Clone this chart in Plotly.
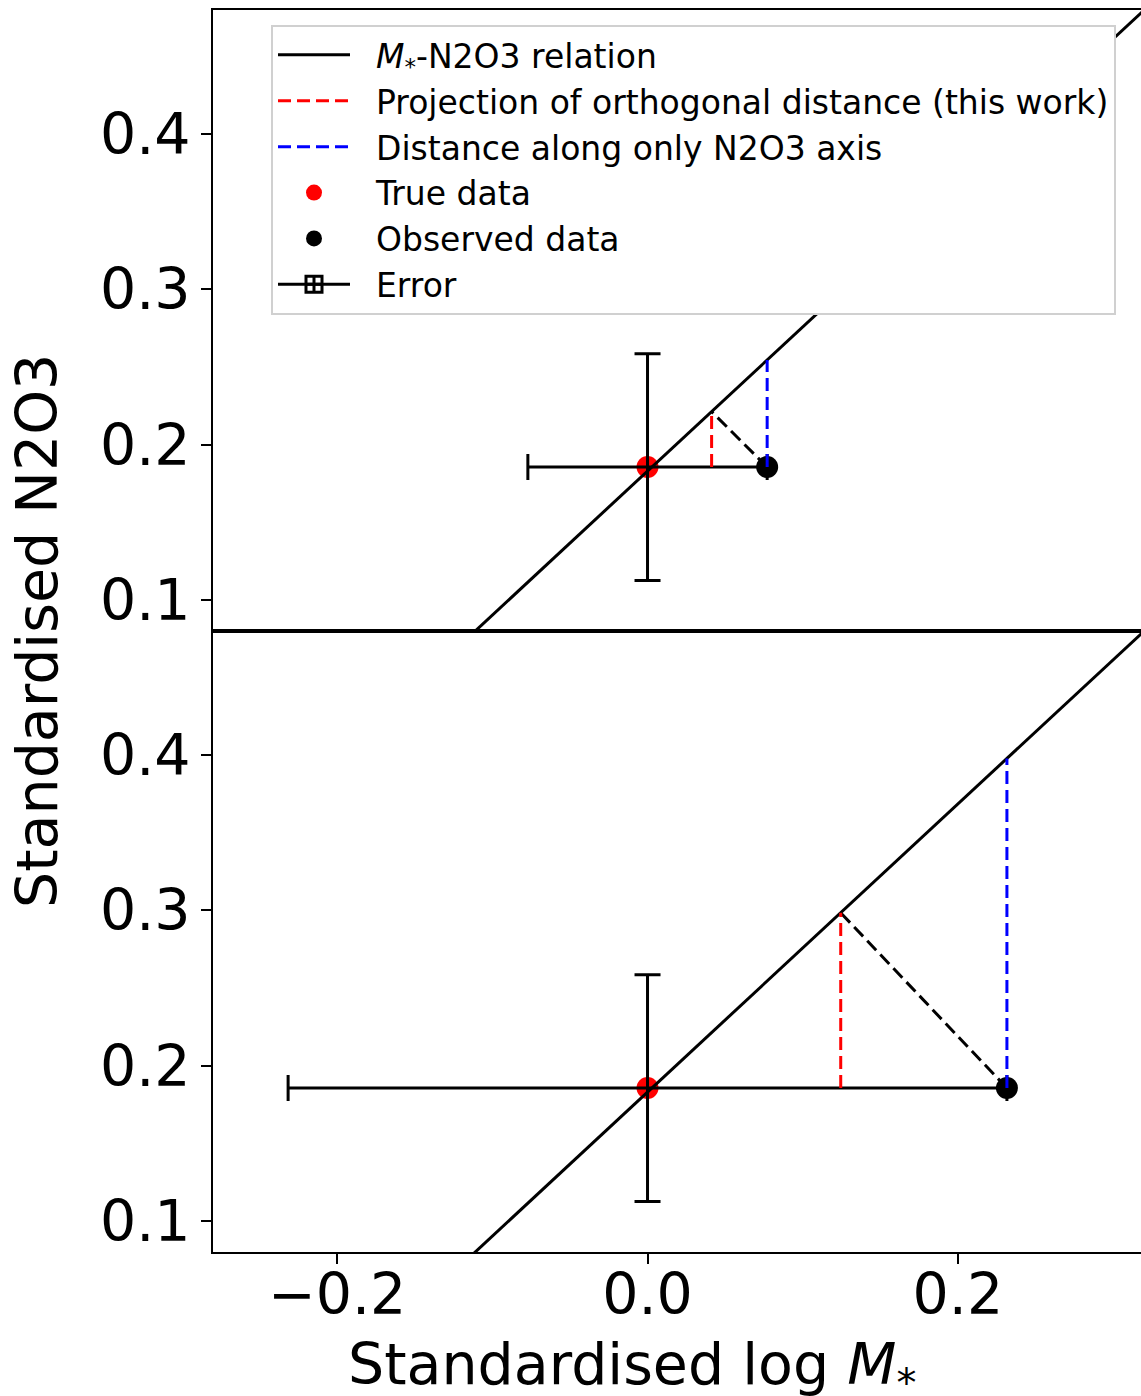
import plotly.graph_objects as go
from plotly.subplots import make_subplots

# ---------------- data ----------------
x_range = [-0.28, 0.318]
y_range = [0.08, 0.48]
x_ticks = [-0.2, 0.0, 0.2]
y_ticks = [0.1, 0.2, 0.3, 0.4]

# M*-N2O3 relation (straight line, end points)
relation_x = [-0.30, 0.35]
relation_y = [-0.0954, 0.5078]

# true data point (same in both panels)
true_x = [0.0]
true_y = [0.1856]

# observed data point per panel (top, bottom)
obs_x = [0.0771, 0.2316]
obs_y = [0.1856, 0.1856]

# foot of the orthogonal projection on the relation, per panel
foot_x = [0.0413, 0.1245]
foot_y = [0.2213, 0.2985]

# point on the relation straight above the observed point, per panel
vert_top_y = [0.2546, 0.3979]

# errors per panel
err_x = [0.0771, 0.2316]
err_y = [0.073, 0.073]

legend_names = [
    "<i>M</i><sub>*</sub>-N2O3 relation",
    "Projection of orthogonal distance (this work)",
    "Distance along only N2O3 axis",
    "True data",
    "Observed data",
    "Error",
]

FONT = "DejaVu Sans"
DASH = "13px,6px"
LW = 3
PAD = "\u00a0\u00a0"

fig = make_subplots(rows=2, cols=1, shared_xaxes=True, vertical_spacing=0)

for i, row in enumerate([1, 2]):
    first = (i == 0)
    # true data (drawn first, below the lines)
    fig.add_trace(go.Scatter(
        x=true_x, y=true_y, mode="markers",
        marker=dict(color="#ff0000", size=22),
        name=PAD + legend_names[3], showlegend=first, legendrank=4,
        cliponaxis=False), row=row, col=1)
    # relation line
    fig.add_trace(go.Scatter(
        x=relation_x, y=relation_y, mode="lines",
        line=dict(color="black", width=LW),
        name=PAD + legend_names[0], showlegend=first, legendrank=1), row=row, col=1)
    # error bars around the true data
    fig.add_trace(go.Scatter(
        x=true_x, y=true_y, mode="markers",
        marker=dict(color="rgba(0,0,0,0)", size=1),
        error_x=dict(type="data", array=[err_x[i]], color="black",
                     thickness=LW, width=13),
        error_y=dict(type="data", array=[err_y[i]], color="black",
                     thickness=LW, width=13),
        showlegend=False, hoverinfo="skip"), row=row, col=1)
    # observed data
    fig.add_trace(go.Scatter(
        x=[obs_x[i]], y=[obs_y[i]], mode="markers",
        marker=dict(color="black", size=22),
        name=PAD + legend_names[4], showlegend=first, legendrank=5,
        cliponaxis=False), row=row, col=1)
    # black dashed: observed -> foot of projection
    fig.add_trace(go.Scatter(
        x=[obs_x[i], foot_x[i]], y=[obs_y[i], foot_y[i]], mode="lines",
        line=dict(color="black", width=LW, dash=DASH),
        showlegend=False, hoverinfo="skip"), row=row, col=1)
    # red dashed: vertical projection of the orthogonal distance
    fig.add_trace(go.Scatter(
        x=[foot_x[i], foot_x[i]], y=[obs_y[i], foot_y[i]], mode="lines",
        line=dict(color="#ff0000", width=LW, dash=DASH),
        name=PAD + legend_names[1], showlegend=first, legendrank=2), row=row, col=1)
    # blue dashed: distance along N2O3 axis only
    fig.add_trace(go.Scatter(
        x=[obs_x[i], obs_x[i]], y=[obs_y[i], vert_top_y[i]], mode="lines",
        line=dict(color="#0000ff", width=LW, dash=DASH),
        name=PAD + legend_names[2], showlegend=first, legendrank=3), row=row, col=1)

# legend-only entry for the error glyph
fig.add_trace(go.Scatter(
    x=[None], y=[None], mode="lines+markers",
    line=dict(color="black", width=LW),
    marker=dict(symbol="square-cross-open", size=16, color="black",
                line=dict(width=LW, color="black")),
    name=PAD + legend_names[5], showlegend=True, legendrank=6), row=1, col=1)

axis_common = dict(
    showgrid=False, zeroline=False, showline=True, linecolor="black",
    linewidth=2, tickcolor="black", tickwidth=2, ticklen=10,
    tickfont=dict(family=FONT, size=57, color="black"),
)

fig.update_xaxes(range=x_range, tickvals=x_ticks, tickformat=".1f",
                 mirror=True, **axis_common)
fig.update_xaxes(ticks="", showticklabels=False, row=1, col=1)
fig.update_xaxes(ticks="outside", showticklabels=True, ticklabelstandoff=-18,
                 row=2, col=1)
fig.update_yaxes(range=y_range, tickvals=y_ticks, tickformat=".1f",
                 ticks="outside", mirror=False, ticklabelstandoff=-1,
                 **axis_common)

fig.add_annotation(
    text="Standardised N2O3", textangle=-90, xref="paper", yref="paper",
    x=-0.1897, y=0.5, xanchor="center", yanchor="middle", showarrow=False,
    font=dict(family=FONT, size=57, color="black"))
fig.add_annotation(
    text="Standardised log <i>M</i><sub>*</sub>", xref="paper", yref="paper",
    x=0.1433, y=-0.062, xanchor="left", yanchor="top", showarrow=False,
    font=dict(family=FONT, size=57, color="black"))

fig.update_layout(
    width=1141, height=1396,
    margin=dict(l=213, r=0, t=10, b=144),
    paper_bgcolor="white", plot_bgcolor="white",
    showlegend=True,
    legend=dict(
        x=0.0625, y=0.988, xanchor="left", yanchor="top",
        bgcolor="white", bordercolor="#d0d0d0", borderwidth=2,
        font=dict(family=FONT, size=33, color="black"),
        itemwidth=72, tracegroupgap=0,
    ),
)

fig.write_html(
    "out.html",
    config={"displayModeBar": False},
    post_script="document.body.style.margin='0';"
                "document.body.style.overflow='hidden';",
)
